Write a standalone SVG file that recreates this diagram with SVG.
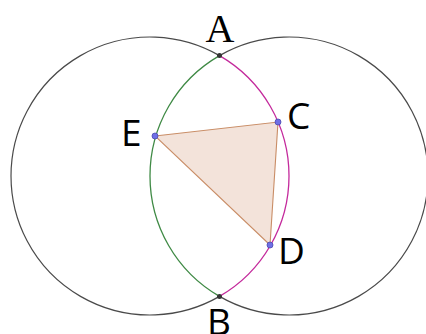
<svg xmlns="http://www.w3.org/2000/svg" width="426" height="334" viewBox="0 0 426 334">
<style>
.circ{fill:none;stroke:#4a4a4a;stroke-width:1.2}
.lbl{font-family:"Open Sans","Noto Sans",sans-serif;font-size:37px;fill:#000}
.pt{fill:#6f6fe6;stroke:#4a4ab0;stroke-width:0.8}
.ipt{fill:#333}
</style>
<rect width="426" height="334" fill="#fff"/>
<g id="circles">
<path class="circ" d="M219.5,55.62 A139,139 0 1 0 219.5,296.38"/>
<path class="circ" d="M219.5,55.62 A139,139 0 1 1 219.5,296.38"/>
<path d="M219.5,55.62 A139,139 0 0 1 219.5,296.38" fill="none" stroke="#c42a9c" stroke-width="1.3"/>
<path d="M219.5,55.62 A139,139 0 0 0 219.5,296.38" fill="none" stroke="#3f8a45" stroke-width="1.3"/>
</g>
<g id="connectors">
<polygon points="155,136 278,122 270,245" fill="#f3e3da" stroke="#c98d66" stroke-width="1.1"/>
</g>
<g id="A"><circle class="ipt" cx="219.5" cy="55.6" r="2.5"/><text x="220" y="42" text-anchor="middle" font-family="'Liberation Serif',serif" font-size="40">A</text></g>
<g id="B"><circle class="ipt" cx="219.5" cy="296.4" r="2.5"/><text class="lbl" x="207" y="335">B</text></g>
<g id="E"><circle class="pt" cx="155" cy="136" r="3"/><text class="lbl" x="121" y="146">E</text></g>
<g id="C"><circle class="pt" cx="278" cy="122" r="3"/><text class="lbl" x="287" y="129">C</text></g>
<g id="D"><circle class="pt" cx="270" cy="245" r="3"/><text class="lbl" x="278" y="264">D</text></g>
</svg>
